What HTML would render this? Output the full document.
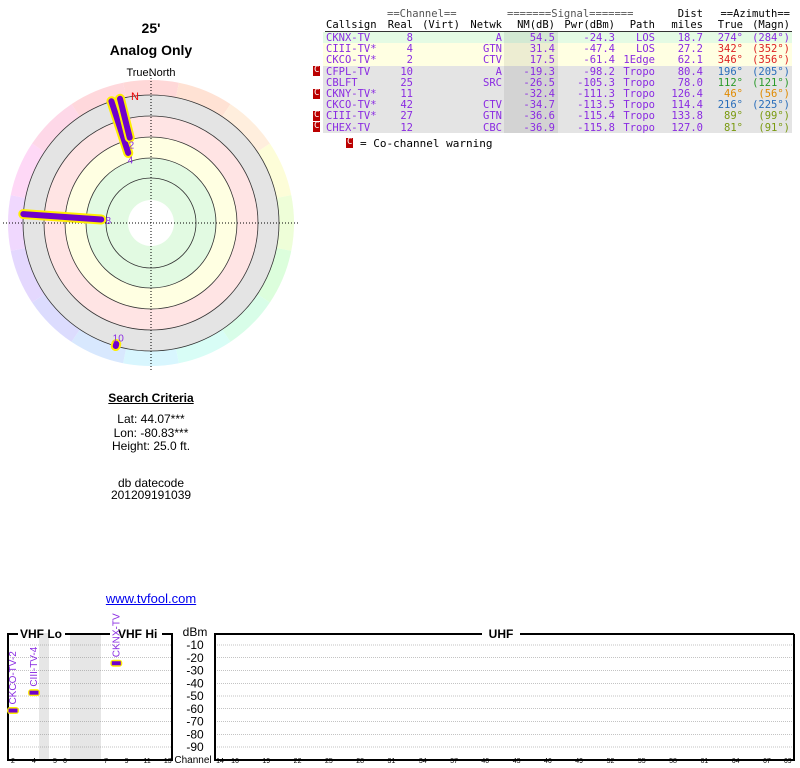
<!DOCTYPE html>
<html><head><meta charset="utf-8"><style>
body{margin:0;width:800px;height:768px;background:#fff;position:relative;overflow:hidden;font-family:"Liberation Sans",sans-serif}
.t{position:absolute;white-space:pre;line-height:1}
.m{font-family:"DejaVu Sans Mono","Liberation Mono",monospace;font-size:10.5px}
.c{text-align:center;transform:translateX(-50%)}
.r{transform:translateX(-100%)}
.p{color:#8a2be2}
</style></head><body>
<div class="t c" style="left:151px;top:21px;font-size:14px;font-weight:bold">25'</div>
<div class="t c" style="left:151px;top:43px;font-size:14px;font-weight:bold">Analog Only</div>
<div class="t c" style="left:151px;top:68px;font-size:11px">TrueNorth</div>

<svg id="polar" style="position:absolute;left:0;top:70px" width="305" height="300"></svg>

<div class="t c" style="left:151px;top:392px;font-size:12px;font-weight:bold;text-decoration:underline">Search Criteria</div>
<div class="t c" style="left:151px;top:413px;font-size:12px">Lat: 44.07***</div>
<div class="t c" style="left:151px;top:427px;font-size:12px">Lon: -80.83***</div>
<div class="t c" style="left:151px;top:440px;font-size:12px">Height: 25.0 ft.</div>
<div class="t c" style="left:151px;top:477px;font-size:12px">db datecode</div>
<div class="t c" style="left:151px;top:489px;font-size:12px">201209191039</div>
<div class="t c" style="left:151px;top:592px;font-size:13px;color:#0000ee;text-decoration:underline">www.tvfool.com</div>

<div id="tbl"></div>

<svg id="spec" style="position:absolute;left:0;top:610px" width="800" height="158"></svg>

<script>
// ---- station data ----
const callsigns=["CKNX-TV","CIII-TV*","CKCO-TV*","CFPL-TV","CBLFT","CKNY-TV*","CKCO-TV*","CIII-TV*","CHEX-TV"];
const realCh=[8,4,2,10,25,11,42,27,12];
const netwk=["A","GTN","CTV","A","SRC","","CTV","GTN","CBC"];
const nmDb=[54.5,31.4,17.5,-19.3,-26.5,-32.4,-34.7,-36.6,-36.9];
const pwrDbm=[-24.3,-47.4,-61.4,-98.2,-105.3,-111.3,-113.5,-115.4,-115.8];
const paths=["LOS","LOS","1Edge","Tropo","Tropo","Tropo","Tropo","Tropo","Tropo"];
const distMi=[18.7,27.2,62.1,80.4,78.0,126.4,114.4,133.8,127.0];
const azTrue=[274,342,346,196,112,46,216,89,81];
const azMagn=[284,352,356,205,121,56,225,99,91];
const cochan=[false,false,false,true,false,true,false,true,true];
const azColors=["#8a2be2","#dd2222","#dd2222","#2a6ebb","#2a9a2a","#e08a00","#2a6ebb","#7a9a10","#7a9a10"];
const rowBg=["#e4fbe4","#ffffe2","#ffffe2","#e4e4e4","#e4e4e4","#e4e4e4","#e4e4e4","#e4e4e4","#e4e4e4"];

const NS="http://www.w3.org/2000/svg";
function mk(parent,tag,attrs){const e=document.createElementNS(NS,tag);for(const k in attrs)e.setAttribute(k,attrs[k]);parent.appendChild(e);return e;}
function txt(parent,x,y,s,cls,style,name){const d=document.createElement('div');d.className='t '+cls;d.style.cssText='left:'+x+'px;top:'+y+'px;'+(style||'');d.textContent=s;


parent.appendChild(d);return d;}

// ---- table ----
const tbl=document.getElementById('tbl');
const top0=32,rh=11.2;
txt(tbl,387,9,"==Channel==","m","color:#555","header-channel");
txt(tbl,507,9,"=======Signal=======","m","color:#555","header-signal");
txt(tbl,703,9,"Dist","m r","","header-dist");
txt(tbl,790,9,"==Azimuth==","m r","","header-azimuth");
const h2=[["Callsign",326,0],["Real",413,1],["(Virt)",460,1],["Netwk",502,1],["NM(dB)",555,1],["Pwr(dBm)",615,1],["Path",655,1],["miles",703,1],["True",743,1],["(Magn)",790,1]];
h2.forEach(h=>txt(tbl,h[1],20,h[0],"m"+(h[2]?" r":""),"","header-"+h[0].replace(/[()]/g,'').toLowerCase()));
const ul=document.createElement('div');ul.style.cssText='position:absolute;left:325px;top:31px;width:467px;height:1px;background:#333';


tbl.appendChild(ul);
callsigns.forEach((cs,i)=>{
  const y=top0+i*rh;
  const bg=document.createElement('div');bg.style.cssText='position:absolute;left:323px;top:'+y+'px;width:469px;height:'+(rh+0.2)+'px;background:'+rowBg[i];
  
  
  tbl.appendChild(bg);
  const nm=document.createElement('div');nm.style.cssText='position:absolute;left:504px;top:'+y+'px;width:54px;height:'+(rh+0.2)+'px;background:rgba(0,0,0,0.07)';
  
  
  tbl.appendChild(nm);
  if(cochan[i]){txt(tbl,313,y+0.5,"C","m","background:#b00;color:#fff;font-size:9px;padding:0 1px;height:10px","cochannel-marker");}
  const ty=y+1;
  txt(tbl,326,ty,cs,"m p","","callsign");
  txt(tbl,413,ty,String(realCh[i]),"m r p","","real-channel");
  txt(tbl,502,ty,netwk[i],"m r p","","network");
  txt(tbl,555,ty,nmDb[i].toFixed(1),"m r p","","nm-db");
  txt(tbl,615,ty,pwrDbm[i].toFixed(1),"m r p","","power-dbm");
  txt(tbl,655,ty,paths[i],"m r p","","path");
  txt(tbl,703,ty,distMi[i].toFixed(1),"m r p","","distance");
  txt(tbl,743,ty,azTrue[i]+"°","m r","color:"+azColors[i],"azimuth-true");
  txt(tbl,790,ty,"("+azMagn[i]+"°)","m r","color:"+azColors[i],"azimuth-magn");
});
txt(tbl,346,138,"C","m","background:#b00;color:#fff;font-size:9px;padding:0 1px;height:10px","legend-cochannel-icon");
txt(tbl,360,138,"= Co-channel warning","m","font-size:11px","legend-cochannel-text");

// ---- polar ----
const P=document.getElementById('polar');
const cx=151,cy=153;
function rOf(nm){return Math.min(128,Math.max(23,106-1.03*nm));}
const hues=["#ffd8d8","#ffe2d4","#ffeedd","#fdfdd8","#eefed8","#dcfedc","#d8fde8","#d8fdf6","#d8f6fe","#d8e8fe","#dcdcfe","#e4d8fe","#f0d8fe","#fed8f6","#fed8e8","#ffd8dc"];
for(let k=0;k<16;k++){
  const a0=(k*22.5-11.25-90)*Math.PI/180,a1=((k+1)*22.5-11.25-90)*Math.PI/180,R=143;
  const w=mk(P,'path',{d:`M${cx},${cy} L${cx+R*Math.cos(a0)},${cy+R*Math.sin(a0)} A${R},${R} 0 0 1 ${cx+R*Math.cos(a1)},${cy+R*Math.sin(a1)} Z`,fill:hues[k]});
  
  
}
const zones=[[128,"#e4e4e4"],[107,"#ffe4e4"],[86,"#ffffe2"],[65,"#e2fae2"],[23,"#fff"]];
zones.forEach(z=>{const c=mk(P,'circle',{cx,cy,r:z[0],fill:z[1]});

});
[45,65,86,107,128].forEach(r=>{const c=mk(P,'circle',{cx,cy,r,fill:'none',stroke:'#333','stroke-width':0.8});

});
const hl=mk(P,'line',{x1:cx-148,y1:cy,x2:cx+148,y2:cy,stroke:'#000','stroke-dasharray':'1,2'});


const vl=mk(P,'line',{x1:cx,y1:cy-148,x2:cx,y2:cy+148,stroke:'#000','stroke-dasharray':'1,2'});


const nl=mk(P,'text',{x:cx-20,y:cy-123,fill:'#e00','font-size':11,'font-family':'Liberation Sans, sans-serif'});nl.textContent='N';


const shown=[0,1,2,3];
shown.forEach(i=>{
  const a=(azTrue[i]-90)*Math.PI/180,r0=rOf(nmDb[i]),r1=128;
  const x0=cx+r0*Math.cos(a),y0=cy+r0*Math.sin(a),x1=cx+r1*Math.cos(a),y1=cy+r1*Math.sin(a);
  const o=mk(P,'line',{x1:x0,y1:y0,x2:x1,y2:y1,stroke:'#ffee00','stroke-width':10,'stroke-linecap':'round'});
  
  
  const l=mk(P,'line',{x1:x0,y1:y0,x2:x1,y2:y1,stroke:'#7000cc','stroke-width':6,'stroke-linecap':'round'});
  
  
  const lr=r0-7;
  const t=mk(P,'text',{x:cx+lr*Math.cos(a),y:cy+lr*Math.sin(a)+4,fill:'#8a2be2','font-size':10,'text-anchor':'middle','font-family':'Liberation Sans, sans-serif'});
  t.textContent=realCh[i];
  
  
});

// ---- spectrum ----
const S=document.getElementById('spec');
const dbTicks=[-10,-20,-30,-40,-50,-60,-70,-80,-90];
const vhfTickCh=[2,4,5,6,7,9,11,13];
const uhfTickCh=[14,16,19,22,25,28,31,34,37,40,43,46,49,52,55,58,61,64,67,69];
const yOf=d=>35+(-d-10)*1.275;
function xV(ch){if(ch<=4)return 13+(ch-2)*10.5;if(ch<=6)return 55+(ch-5)*10;return 106+(ch-7)*10.3;}
function xU(ch){if(ch<=16)return 220+(ch-14)*7.5;return 235+(ch-16)*10.43;}
function T(x,y,s,size,anchor,fill,name,extra){const t=mk(S,'text',Object.assign({x,y,'font-size':size,'text-anchor':anchor||'start',fill:fill||'#000','font-family':'Liberation Sans, sans-serif'},extra||{}));t.textContent=s;

return t;}
[[39,49],[70,101]].forEach(s=>{const r=mk(S,'rect',{x:s[0],y:23,width:s[1]-s[0],height:127,fill:'#e6e6e6'});

});
dbTicks.forEach(d=>{
  [[8,172],[215,794]].forEach(g=>{const l=mk(S,'line',{x1:g[0],y1:yOf(d),x2:g[1],y2:yOf(d),stroke:'#888','stroke-width':0.6,'stroke-dasharray':'1,1'});
  
  });
  T(195,yOf(d)+4,String(d),12,'middle','#000','y-tick-label');
});
T(195,26,'dBm',12,'middle','#000','y-axis-title');
function box(segs,name){const p=mk(S,'path',{d:segs,fill:'none',stroke:'#000','stroke-width':2});

}
box('M18,24 H8 V150 H172 V24 H162 M65,24 H110','vhf-box');
box('M245,24 H215 V150 H794 V24','uhf-box-sides');
box('M245,24 H482 M520,24 H794','uhf-box-top');
T(20,28,'VHF Lo',12,'start','#000','vhf-lo-title',{'font-weight':'bold'});
T(118,28,'VHF Hi',12,'start','#000','vhf-hi-title',{'font-weight':'bold'});
T(501,28,'UHF',12,'middle','#000','uhf-title',{'font-weight':'bold'});
T(193,153,'Channel',10,'middle','#000','x-axis-title');
vhfTickCh.forEach(c=>T(xV(c),153,String(c),7,'middle','#000','vhf-channel-tick'));
uhfTickCh.forEach(c=>T(xU(c),153,String(c),7,'middle','#000','uhf-channel-tick'));
const barLabels=["CKNX-TV","CIII-TV-4","CKCO-TV-2"];
[0,1,2].forEach((i,k)=>{
  const x=xV(realCh[i]),y=yOf(pwrDbm[i]);
  const o=mk(S,'rect',{x:x-6,y:y-3.5,width:12,height:7,rx:3,fill:'#ffee00'});
  
  
  const b=mk(S,'rect',{x:x-4.5,y:y-2,width:9,height:4,fill:'#7000cc'});
  
  
  T(0,0,barLabels[k],10,'start','#8a2be2','signal-bar-label',{transform:`translate(${x+3},${y-6}) rotate(-90)`});
});
</script>
</body></html>
